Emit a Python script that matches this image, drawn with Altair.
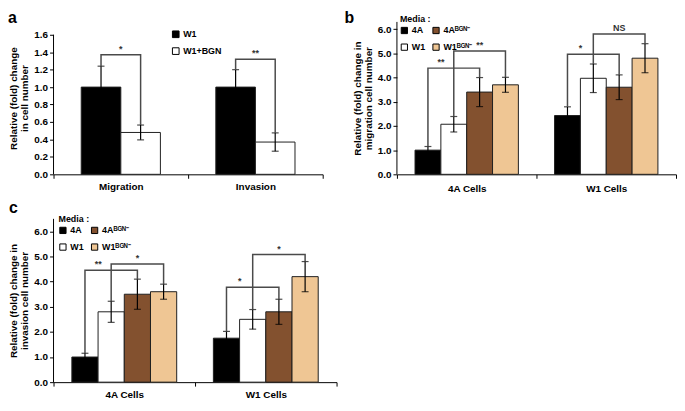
import altair as alt
import pandas as pd

FONT = "Liberation Sans"
SUP = "\u1d2e\u1d33\u1d3a\u207b"

# ---------------- Panel a ----------------
a_categories = ["Migration", "Invasion"]
a_groups = ["W1", "W1+BGN"]
a_colors = ["#000000", "#ffffff"]
a_means = [[1.00, 0.48], [1.00, 0.37]]
a_errs = [[0.24, 0.085], [0.20, 0.105]]
a_ticks = [0.0, 0.2, 0.4, 0.6, 0.8, 1.0, 1.2, 1.4, 1.6]
a_br_cat = ["Migration", "Invasion"]
a_br_left = [0, 0]
a_br_right = [1, 1]
a_br_top = [1.37, 1.32]
a_br_label = ["*", "**"]
a_br_side = ["center", "center"]

# ---------------- Panels b and c ----------------
bc_categories = ["4A Cells", "W1 Cells"]
bc_groups = ["4A", "W1", "4A" + SUP, "W1" + SUP]
bc_colors = ["#000000", "#ffffff", "#83512f", "#efc694"]
bc_ticks = [0.0, 1.0, 2.0, 3.0, 4.0, 5.0, 6.0]

b_means = [[1.00, 2.07, 3.40, 3.70], [2.43, 3.97, 3.60, 4.80]]
b_errs = [[0.15, 0.32, 0.60, 0.31], [0.36, 0.59, 0.51, 0.60]]
b_br_cat = ["4A Cells", "4A Cells", "W1 Cells", "W1 Cells"]
b_br_left = [0, 1, 0, 1]
b_br_right = [2, 3, 2, 3]
b_br_top = [4.39, 5.10, 4.96, 5.80]
b_br_label = ["**", "**", "*", "NS"]
b_br_side = ["left", "center", "left", "center"]

c_means = [[1.00, 2.80, 3.50, 3.60], [1.75, 2.50, 2.80, 4.20]]
c_errs = [[0.15, 0.42, 0.60, 0.30], [0.27, 0.39, 0.50, 0.60]]
c_br_cat = ["4A Cells", "4A Cells", "W1 Cells", "W1 Cells"]
c_br_left = [0, 1, 0, 1]
c_br_right = [2, 3, 2, 3]
c_br_top = [4.45, 4.70, 3.78, 5.08]
c_br_label = ["**", "*", "*", "*"]
c_br_side = ["left", "center", "left", "center"]


def panel(letter, letter_x, letter_y, cats, groups, colors, means, errs,
          br_cat, br_left, br_right, br_top, br_label, br_side,
          ymax, axis_top, yticks, ytitle, width, height, pad_outer, legend, label_pad):
    rows = []
    for c, ms, es in zip(cats, means, errs):
        for g, m, e in zip(groups, ms, es):
            rows.append({"cat": c, "group": g, "mean": m, "lo": m - e, "hi": m + e})
    bars_df = pd.DataFrame(rows)

    def hi_of(cat, gi):
        r = bars_df[(bars_df["cat"] == cat) & (bars_df["group"] == groups[gi])]
        return float(r["hi"].iloc[0])

    line_rows, star_rows = [], []
    for k, (c, l, r, t, lab, side) in enumerate(
            zip(br_cat, br_left, br_right, br_top, br_label, br_side)):
        pts = [(groups[l], hi_of(c, l)), (groups[l], t), (groups[r], t), (groups[r], hi_of(c, r))]
        for o, (g, yv) in enumerate(pts):
            line_rows.append({"cat": c, "group": g, "y": yv, "ord": o, "bid": k})
        star_rows.append({"cat": c, "group": groups[(l + r) // 2], "top": t,
                          "label": lab, "side": side})
    lines_df = pd.DataFrame(line_rows)
    stars_df = pd.DataFrame(star_rows)

    x = alt.X("cat:N", sort=cats, scale=alt.Scale(paddingInner=0, paddingOuter=0),
              axis=alt.Axis(title=None, labelAngle=0, tickBand="extent",
                            labelPadding=label_pad, labelFontSize=10))
    xo = alt.XOffset("group:N", sort=groups,
                     scale=alt.Scale(domain=groups, paddingInner=0, paddingOuter=pad_outer))
    yscale = alt.Scale(domain=[0, ymax], nice=False, zero=True)

    def Y(field):
        return alt.Y(f"{field}:Q", scale=yscale, title=ytitle,
                     axis=alt.Axis(values=yticks, format=".1f", domain=False))

    bars = alt.Chart(bars_df).mark_bar(stroke="#1f1f1f", strokeWidth=1).encode(
        x=x, xOffset=xo, y=Y("mean"),
        fill=alt.Fill("group:N", scale=alt.Scale(domain=groups, range=colors), legend=legend),
    )
    yaxis_line = alt.Chart(pd.DataFrame({"lo": [0.0], "hi": [axis_top]})).mark_rule(
        color="black", strokeWidth=1).encode(x=alt.value(0), y=Y("lo"), y2="hi:Q")
    err = alt.Chart(bars_df).mark_rule(color="black", strokeWidth=1.2).encode(
        x=x, xOffset=xo, y=Y("lo"), y2="hi:Q")
    cap_hi = alt.Chart(bars_df).mark_tick(color="black", thickness=1.2, size=7).encode(
        x=x, xOffset=xo, y=Y("hi"))
    cap_lo = alt.Chart(bars_df).mark_tick(color="black", thickness=1.2, size=7).encode(
        x=x, xOffset=xo, y=Y("lo"))
    br = alt.Chart(lines_df).mark_line(color="#4a4a4a", strokeWidth=1.5).encode(
        x=x, xOffset=xo, y=Y("y"), order="ord:Q", detail="bid:N")

    layers = [bars, yaxis_line, err, cap_hi, cap_lo, br]
    for side, dx in (("center", 0), ("left", -13)):
        sub = stars_df[stars_df["side"] == side]
        if len(sub) == 0:
            continue
        enc = dict(x=x, y=Y("top"), text="label:N")
        if len(groups) > 2:
            enc["xOffset"] = xo
        layers.append(alt.Chart(sub).mark_text(
            font=FONT, fontSize=9, fontWeight="bold", baseline="bottom", dy=-1, dx=dx,
            color="#333333").encode(**enc))
    layers.append(alt.Chart(pd.DataFrame({"letter": [letter]})).mark_text(
        font=FONT, fontSize=16, fontWeight="bold", align="left", baseline="alphabetic",
        color="black").encode(x=alt.value(letter_x), y=alt.value(letter_y), text="letter:N"))

    return alt.layer(*layers).properties(width=width, height=height)


leg_common = dict(symbolType="square", symbolStrokeColor="black", symbolStrokeWidth=1,
                  labelOffset=3, padding=0)

a_leg = alt.Legend(title=None, orient="none", legendX=119, legendY=8, symbolSize=45,
                   rowPadding=6, **leg_common)
b_leg = alt.Legend(title="Media :", orient="none", legendX=3, legendY=-7, columns=2,
                   symbolSize=40, columnPadding=5, rowPadding=6, **leg_common)
c_leg = alt.Legend(title="Media :", orient="none", legendX=5, legendY=-4, columns=2,
                   symbolSize=40, columnPadding=5, rowPadding=6, **leg_common)

TOP_H = 154
A_H = 141  # height of 0..1.6 in panel a (top of plot row is shared with panel b)

pa = panel("a", -46, 1, a_categories, a_groups, a_colors, a_means, a_errs,
           a_br_cat, a_br_left, a_br_right, a_br_top, a_br_label, a_br_side,
           1.6 * TOP_H / A_H, 1.6, a_ticks, ["Relative (fold) change", "in cell number"],
           272, TOP_H, 0.7, a_leg, 3)
pb = panel("b", -53, 1, bc_categories, bc_groups, bc_colors, b_means, b_errs,
           b_br_cat, b_br_left, b_br_right, b_br_top, b_br_label, b_br_side,
           6.3, 6.3, bc_ticks, ["Relative (fold) change in", "migration cell number"],
           282, TOP_H, 0.7, b_leg, 5)
pc = panel("c", -45, -6, bc_categories, bc_groups, bc_colors, c_means, c_errs,
           c_br_cat, c_br_left, c_br_right, c_br_top, c_br_label, c_br_side,
           6.5, 6.5, bc_ticks, ["Relative (fold) change in", "invasion cell number"],
           286, 165, 0.7, c_leg, 4)

res = dict(x="independent", y="independent", xOffset="independent", fill="independent")

top = alt.hconcat(pa, pb, spacing=21).resolve_scale(**res).resolve_legend(fill="independent")
chart = (
    alt.vconcat(top, pc, spacing=7)
    .resolve_scale(**res)
    .resolve_legend(fill="independent")
    .properties(padding=0)
    .configure_view(stroke=None)
    .configure_axis(labelFont=FONT, titleFont=FONT, labelFontWeight="bold", titleFontWeight="bold",
                    labelFontSize=10, titleFontSize=10, labelColor="black", titleColor="black",
                    domainColor="black", tickColor="black", tickSize=4, grid=False,
                    titleLineHeight=11)
    .configure_axisY(titlePadding=4, labelPadding=2)
    .configure_legend(labelFont=FONT, titleFont=FONT, labelFontWeight="bold", titleFontWeight="bold",
                      labelFontSize=9, titleFontSize=9, labelColor="black", titleColor="black",
                      titlePadding=2)
)

chart.save("out.html", embed_options={"renderer": "svg", "actions": False})
